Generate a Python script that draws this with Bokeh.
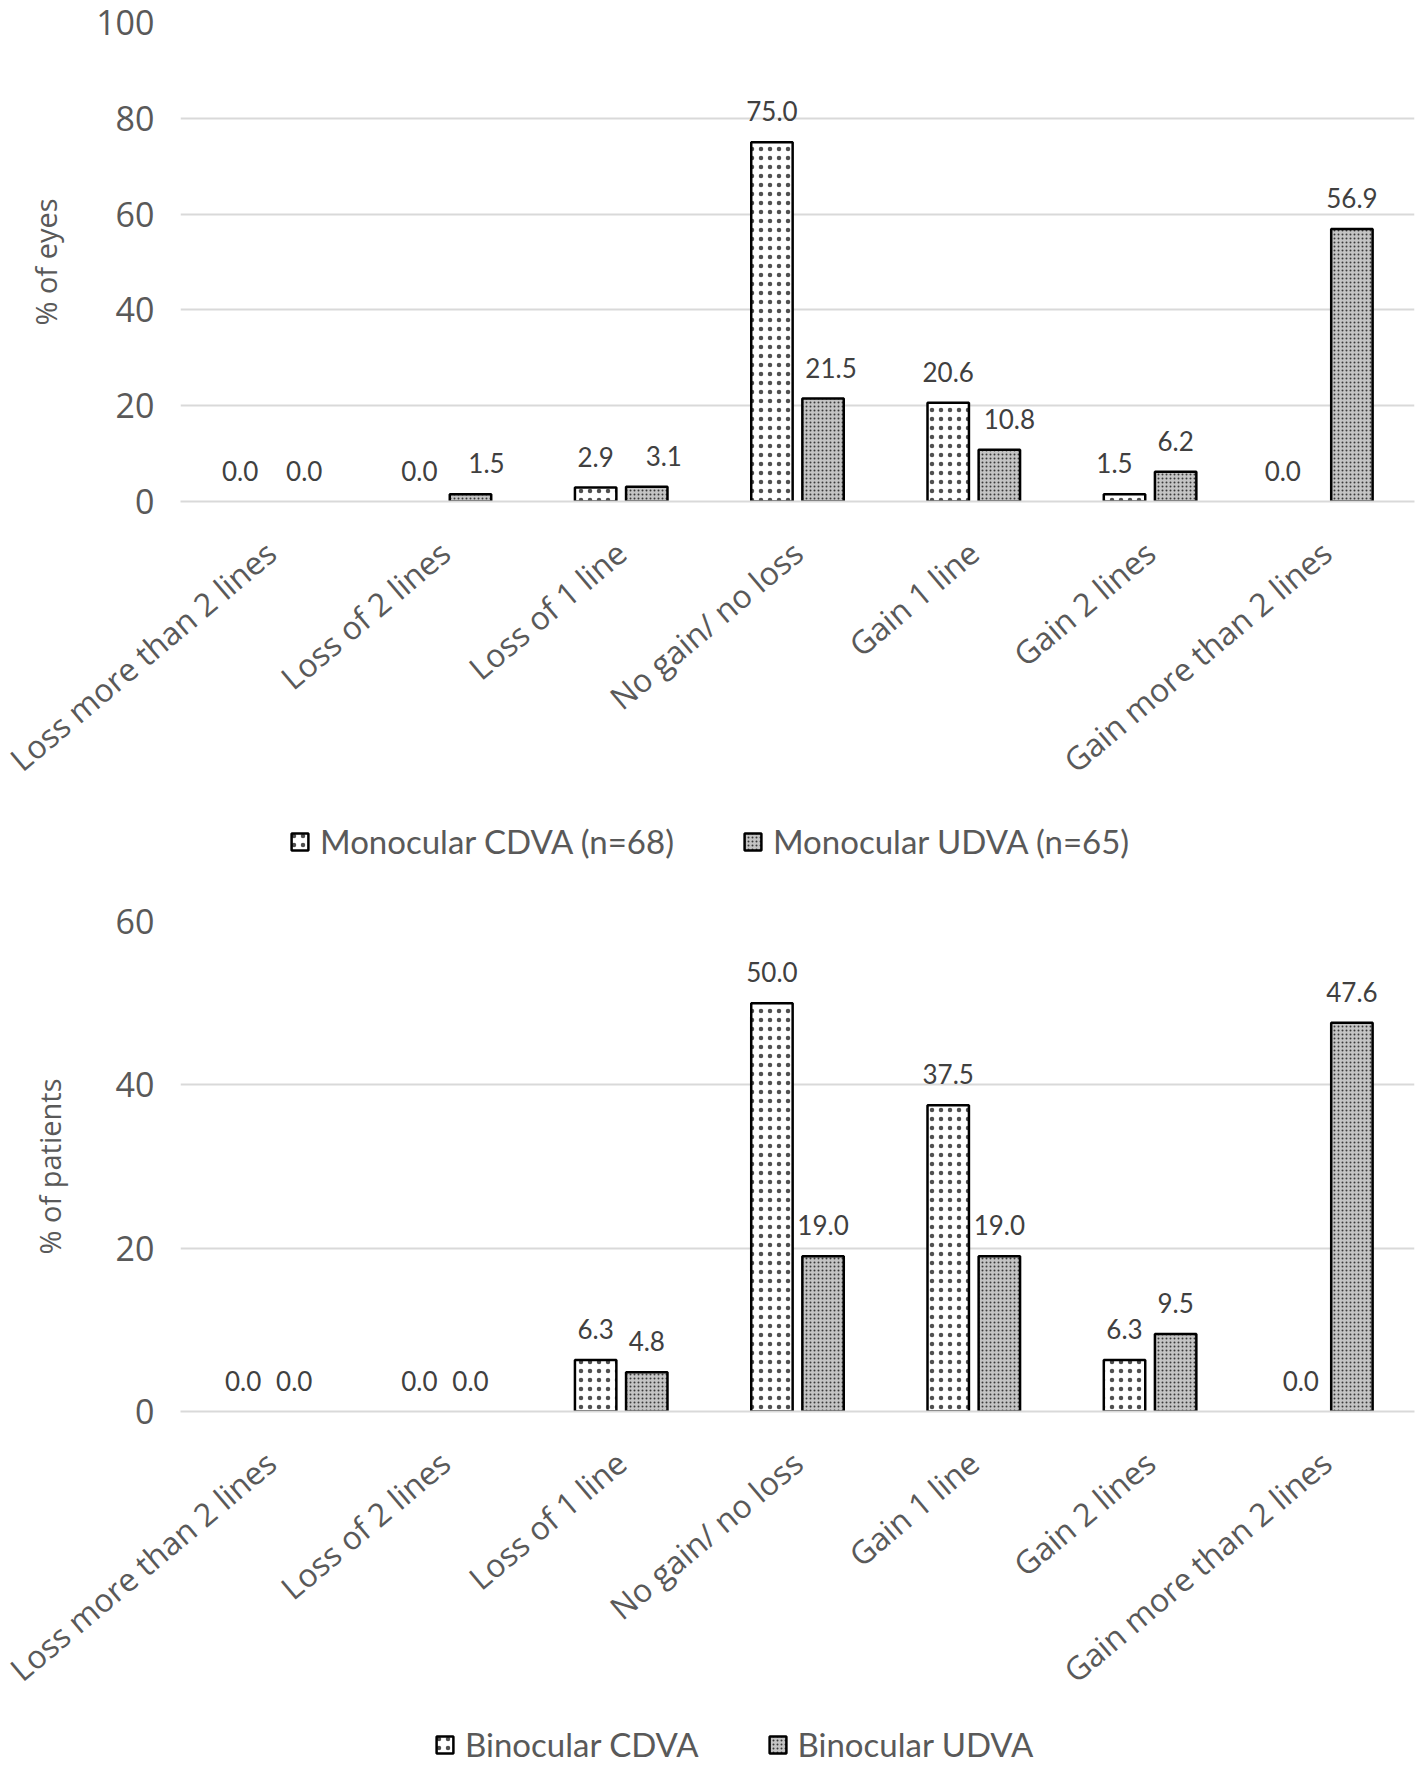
from bokeh.plotting import figure
from bokeh.models import (ColumnDataSource, FactorRange, Range1d, FixedTicker,
                          LabelSet, Legend, LegendItem)
from bokeh.core.properties import value
from bokeh.transform import dodge
from bokeh.layouts import column
from bokeh.embed import file_html
from bokeh.resources import INLINE

# ---------------- data ----------------
categories = ["Loss more than 2 lines", "Loss of 2 lines", "Loss of 1 line",
              "No gain/ no loss", "Gain 1 line", "Gain 2 lines",
              "Gain more than 2 lines"]
mono_cdva = [0.0, 0.0, 2.9, 75.0, 20.6, 1.5, 0.0]
mono_udva = [0.0, 1.5, 3.1, 21.5, 10.8, 6.2, 56.9]
bino_cdva = [0.0, 0.0, 6.3, 50.0, 37.5, 6.3, 0.0]
bino_udva = [0.0, 0.0, 4.8, 19.0, 19.0, 9.5, 47.6]
top_ticks = [0, 20, 40, 60, 80, 100]
bottom_ticks = [0, 20, 40, 60]
top_legend = ["Monocular CDVA (n=68)", "Monocular UDVA (n=65)"]
bottom_legend = ["Binocular CDVA", "Binocular UDVA"]

# small pixel nudges of data labels (style only)
top_nudge_cdva = [-3, 0, 0, 0, 0, -10, -18]
top_nudge_udva = [10, 16, 17, 8, 10, 0, 0]
zero_nudge = [0, 0, 0, 0, 0, 0, 0]

GRID = "#d9d9d9"
TXT = "#595959"
LBL = "#404040"
LEFT = 180

CDVA_STYLE = dict(fill_color="white", line_width=2.5, hatch_pattern="dot",
                  hatch_scale=9, hatch_weight=2, hatch_color="#505050")
UDVA_STYLE = dict(fill_color="#c4c4c4", line_width=2.5, hatch_pattern="dot",
                  hatch_scale=4, hatch_weight=2, hatch_color="#3a3a3a")


def make_chart(cdva, udva, ticks, ylabel, nudge_c, nudge_u, height,
               border_top, border_bottom, title_standoff):
    src = ColumnDataSource(dict(
        cat=categories, cdva=cdva, udva=udva,
        cdva_txt=["%.1f" % v for v in cdva],
        udva_txt=["%.1f" % v for v in udva],
        cdva_line=["black" if v > 0 else None for v in cdva],
        udva_line=["black" if v > 0 else None for v in udva],
        nc=nudge_c, nu=nudge_u))
    p = figure(width=1416, height=height, x_range=FactorRange(*categories),
               y_range=Range1d(0, ticks[-1]), output_backend="svg",
               toolbar_location=None, min_border_left=LEFT,
               min_border_right=2, min_border_top=border_top,
               min_border_bottom=border_bottom)
    p.outline_line_color = None
    p.background_fill_color = "white"

    p.vbar(x=dodge("cat", -0.145, range=p.x_range), top="cdva",
           width=0.235, source=src, line_color="cdva_line", **CDVA_STYLE)
    p.vbar(x=dodge("cat", 0.145, range=p.x_range), top="udva",
           width=0.235, source=src, line_color="udva_line", **UDVA_STYLE)

    for xo, col, nud in ((-0.145, "cdva", "nc"), (0.145, "udva", "nu")):
        ls = LabelSet(x=dodge("cat", xo, range=p.x_range), y=col,
                      text=col + "_txt", source=src, x_offset=nud,
                      y_offset=31, text_align="center",
                      text_baseline="middle", text_font=value("Lato"),
                      text_font_size="26px", text_color=LBL)
        p.add_layout(ls)

    p.yaxis.ticker = FixedTicker(ticks=ticks)
    p.yaxis.axis_line_color = None
    p.yaxis.major_tick_line_color = None
    p.yaxis.minor_tick_line_color = None
    p.yaxis.major_label_text_font = "Open Sans"
    p.yaxis.major_label_text_font_size = "34px"
    p.yaxis.major_label_text_color = TXT
    p.yaxis.major_label_standoff = 20
    p.yaxis.axis_label = ylabel
    p.yaxis.axis_label_text_font = "Open Sans"
    p.yaxis.axis_label_text_font_size = "29px"
    p.yaxis.axis_label_text_font_style = "normal"
    p.yaxis.axis_label_text_color = TXT
    p.yaxis.axis_label_standoff = title_standoff

    p.xaxis.axis_line_color = GRID
    p.xaxis.axis_line_width = 2
    p.xaxis.major_tick_line_color = None
    p.xaxis.minor_tick_line_color = None
    p.xaxis.major_label_orientation = 0.70
    p.xaxis.major_label_text_font = "Open Sans"
    p.xaxis.major_label_text_font_size = "32px"
    p.xaxis.major_label_text_color = TXT
    p.xaxis.major_label_standoff = 40

    p.xgrid.grid_line_color = None
    p.ygrid.grid_line_color = GRID
    p.ygrid.grid_line_width = 2
    return p


def make_legend(labels, height, x_left, y_bottom):
    lp = figure(width=1416, height=height, x_range=Range1d(0, 1000),
                y_range=Range1d(0, 1000), output_backend="svg",
                toolbar_location=None, min_border=0, min_border_left=LEFT,
                min_border_right=2,
                x_axis_location=None, y_axis_location=None)
    lp.grid.visible = False
    lp.outline_line_color = None
    lp.border_fill_color = "white"
    lp.background_fill_color = "white"
    # one undrawable (NaN) bar per series, only so the legend can draw its
    # swatch with the series style
    off = ColumnDataSource(dict(x=[float("nan")], top=[float("nan")]))
    rc = lp.vbar(x="x", top="top", width=1, source=off,
                 line_color="black", **CDVA_STYLE)
    ru = lp.vbar(x="x", top="top", width=1, source=off,
                 line_color="black", **UDVA_STYLE)
    legend = Legend(items=[LegendItem(label=labels[0], renderers=[rc]),
                           LegendItem(label=labels[1], renderers=[ru])],
                    orientation="horizontal", location=(x_left, y_bottom),
                    glyph_width=21, glyph_height=21, label_standoff=10,
                    spacing=68, padding=0, margin=0,
                    border_line_color=None, background_fill_alpha=0,
                    label_text_font="Lato", label_text_font_size="33px",
                    label_text_color=TXT)
    lp.add_layout(legend, "center")
    return lp


top = make_chart(mono_cdva, mono_udva, top_ticks, "% of eyes",
                 top_nudge_cdva, top_nudge_udva, height=800,
                 border_top=22, border_bottom=295, title_standoff=28)
leg1 = make_legend(top_legend, 80, 289 - LEFT, 19)
bottom = make_chart(bino_cdva, bino_udva, bottom_ticks, "% of patients",
                    zero_nudge, zero_nudge, height=830,
                    border_top=41, border_bottom=293, title_standoff=44)
leg2 = make_legend(bottom_legend, 56, 434 - LEFT, 2)

layout = column(top, leg1, bottom, leg2, spacing=0)
open("out.html", "w").write(file_html(layout, INLINE))
